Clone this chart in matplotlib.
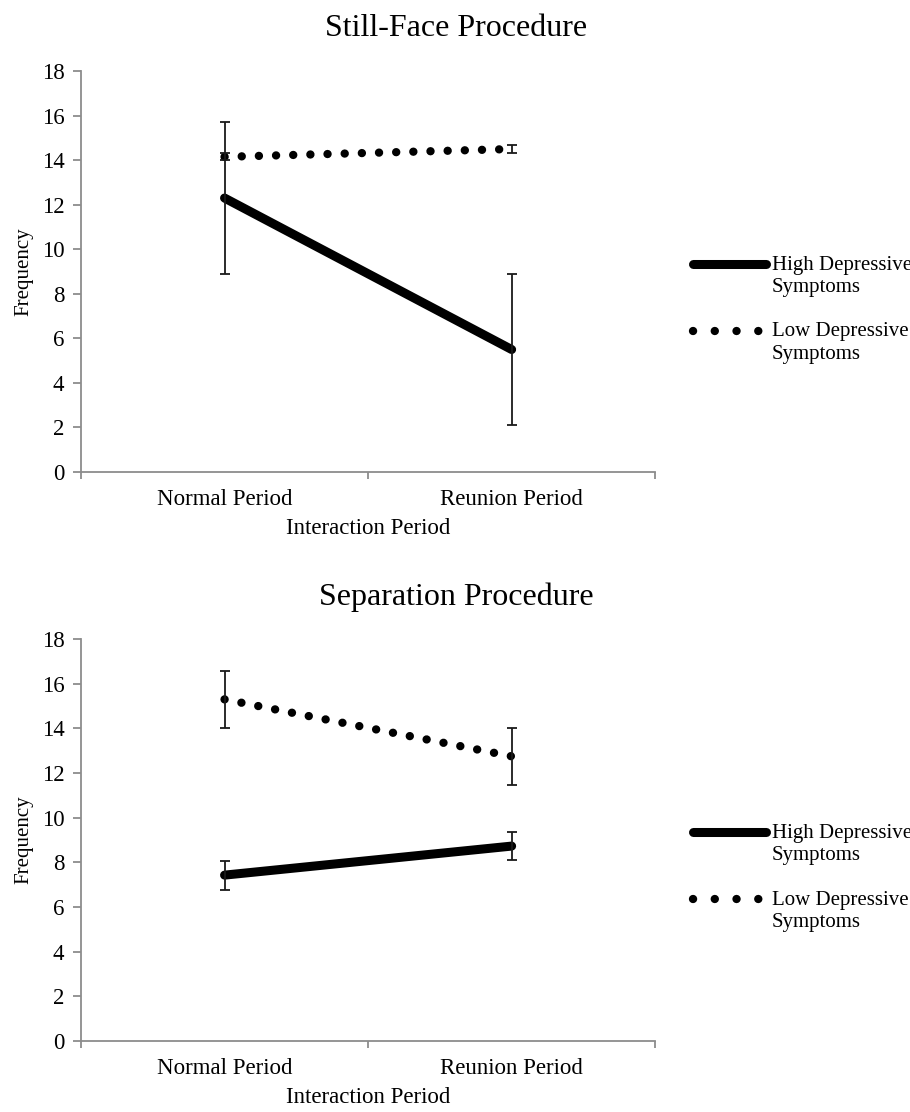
import numpy as np
import matplotlib
matplotlib.use('Agg')
import matplotlib.pyplot as plt
from matplotlib.lines import Line2D

plt.rcParams['font.family'] = ['Liberation Serif', 'DejaVu Serif']

# Categories on the x axis
periods = ['Normal Period', 'Reunion Period']
series_names = ['High Depressive\nSymptoms', 'Low Depressive\nSymptoms']

# Still-Face Procedure: means and error bar half widths
sf_high = [12.3, 5.5]
sf_high_err = [3.4, 3.4]
sf_low = [14.15, 14.5]
sf_low_err = [0.15, 0.2]

# Separation Procedure
sep_high = [7.43, 8.73]
sep_high_err = [0.65, 0.64]
sep_low = [15.3, 12.75]
sep_low_err = [1.28, 1.28]

panels = [
    ('Still-Face Procedure', sf_high, sf_high_err, sf_low, sf_low_err),
    ('Separation Procedure', sep_high, sep_high_err, sep_low, sep_low_err),
]

axis_grey = '#8c8c8c'
dotted = (0, (0.01, 2.05))

fig = plt.figure(figsize=[9.1, 11.12], dpi=100)

# axes boxes (left, bottom, width, height) in figure fraction
boxes = [[0.089, 0.5755, 0.631, 0.3606],
         [0.089, 0.0638, 0.631, 0.3615]]
title_y = [0.974, 0.463]
legend_y = [0.7625, 0.2515]

for (title, high, high_err, low, low_err), box, ty, ly in zip(panels, boxes, title_y, legend_y):
    ax = fig.add_axes(box)
    x = np.arange(len(periods)) + 0.5

    ax.plot(x, high, '-', color='black', linewidth=6.5, solid_capstyle='round', zorder=3)
    ax.plot(x, low, color='black', linewidth=6, linestyle=dotted,
            dash_capstyle='round', zorder=3)
    ax.errorbar(x, high, yerr=high_err, fmt='none', ecolor='#1a1a1a',
                elinewidth=1.3, capsize=3.8, capthick=1.3, zorder=4)
    ax.errorbar(x, low, yerr=low_err, fmt='none', ecolor='#1a1a1a',
                elinewidth=1.3, capsize=3.8, capthick=1.3, zorder=4)

    ax.set_xlim(0, len(periods))
    ax.set_ylim(0, 18)
    ax.set_yticks(np.arange(0, 19, 2))
    ax.set_xticks(np.arange(len(periods) + 1))
    ax.set_xticklabels([])
    ax.set_xticks(x, minor=True)
    ax.set_xticklabels(periods, minor=True, fontsize=16.5)
    ax.tick_params(axis='x', which='minor', length=0, pad=12)
    ax.tick_params(axis='x', which='major', length=5, color=axis_grey, width=1.3, direction='out')
    ax.tick_params(axis='y', length=6, color=axis_grey, width=1.3, direction='out',
                   labelsize=16.5, pad=6)
    for s in ['top', 'right']:
        ax.spines[s].set_visible(False)
    for s in ['left', 'bottom']:
        ax.spines[s].set_color(axis_grey)
        ax.spines[s].set_linewidth(1.3)

    ax.set_xlabel('Interaction Period', fontsize=16.5, labelpad=6)
    ax.set_ylabel('Frequency', fontsize=15, labelpad=6)

    fig.text(0.501, ty, title, fontsize=23, ha='center', va='center')

    # legend to the right, handle aligned to first text line
    styles = [dict(linestyle='-', linewidth=6.5, solid_capstyle='round'),
              dict(linestyle=(0, (0.01, 2.6)), linewidth=6, dash_capstyle='round')]
    for k, (name, st) in enumerate(zip(series_names, styles)):
        yy = ly - k * 0.06
        fig.add_artist(Line2D([0.761, 0.842], [yy, yy], color='black',
                              transform=fig.transFigure, **st))
        fig.text(0.848, yy + 0.0075, name, fontsize=15, ha='left', va='top',
                 linespacing=1.25)

plt.savefig('out.png', dpi=100)
